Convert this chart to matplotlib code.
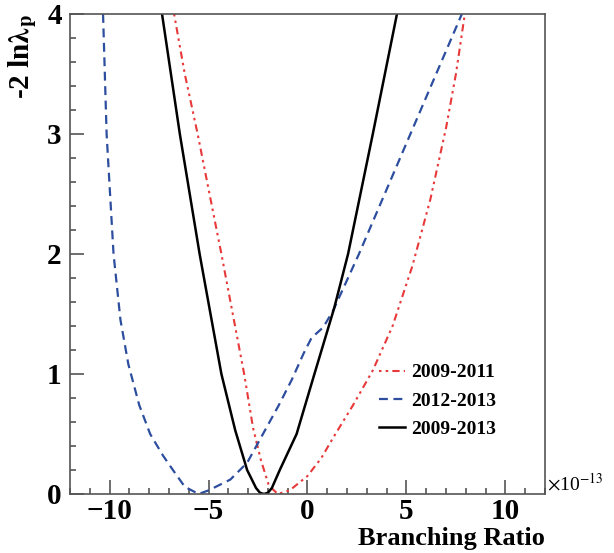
import numpy as np
import matplotlib
matplotlib.use('Agg')
import matplotlib.pyplot as plt
from matplotlib.ticker import MultipleLocator

plt.rcParams['font.family'] = ['Liberation Serif', 'DejaVu Serif']
plt.rcParams['mathtext.fontset'] = 'stix'

# values (x in units of 1e-13)
red_x = [-6.74, -6.2, -5.55, -4.35, -3.2, -2.75, -2.35, -1.95, -1.5, -0.9, 0.0, 0.7, 1.3,
         2.3, 3.3, 4.3, 5.3, 6.2, 7.0, 7.5, 7.95]
red_y = [4.0, 3.5, 3.0, 2.0, 1.0, 0.55, 0.28, 0.07, 0.0, 0.03, 0.15, 0.3, 0.47,
         0.74, 1.03, 1.4, 1.9, 2.45, 3.05, 3.5, 4.0]

blue_x = [-10.33, -10.15, -9.8, -9.45, -9.05, -8.5, -7.95, -7.3, -6.8, -6.2, -5.5, -5.0,
          -3.9, -3.05, -2.15, -1.45, -0.8, -0.2, 0.2, 0.8, 1.3, 2.6, 5.2, 7.8]
blue_y = [4.0, 3.0, 2.0, 1.45, 1.08, 0.74, 0.5, 0.32, 0.2, 0.06, 0.0, 0.03,
          0.12, 0.26, 0.53, 0.74, 0.95, 1.17, 1.3, 1.39, 1.53, 2.0, 3.0, 4.0]

black_x = [-7.35, -6.9, -6.45, -5.45, -4.35, -3.65, -3.05, -2.6, -2.4, -2.2, -2.0, -1.8,
           -1.4, -0.55, 0.35, 1.35, 2.05, 3.3, 4.52]
black_y = [4.0, 3.5, 3.0, 2.0, 1.0, 0.53, 0.2, 0.05, 0.01, 0.0, 0.01, 0.05,
           0.2, 0.5, 1.0, 1.55, 2.0, 3.0, 4.0]

labels = ['2009-2011', '2012-2013', '2009-2013']

fig = plt.figure(figsize=(6.14, 5.53), dpi=100)
ax = fig.add_axes([0.114, 0.1067, 0.7736, 0.868])

ax.plot(red_x, red_y, color='#e8393a', lw=1.5, linestyle=(0, (1.2, 2.0, 1.2, 2.0, 3.5, 2.0)),
        label=labels[0])
ax.plot(blue_x, blue_y, color='#2d4e9e', lw=1.6, linestyle=(0, (4, 2.5)), label=labels[1])
ax.plot(black_x, black_y, color='black', lw=1.8, label=labels[2])

ax.set_xlim(-12, 12)
ax.set_ylim(0, 4)
ax.xaxis.set_major_locator(MultipleLocator(5))
ax.xaxis.set_minor_locator(MultipleLocator(1))
ax.yaxis.set_major_locator(MultipleLocator(1))
ax.yaxis.set_minor_locator(MultipleLocator(0.2))
ax.tick_params(which='both', direction='in', top=False, right=False, color='#555555', width=1.2)
ax.tick_params(which='major', length=10, labelsize=21, pad=6)
ax.tick_params(axis='x', which='major', pad=3)
ax.tick_params(which='minor', length=4.5)
for lab in ax.get_yticklabels():
    lab.set_fontweight('bold')
for sp in ax.spines.values():
    sp.set_color('#555555')
    sp.set_linewidth(1.2)

xt = [-10, -5, 0, 5, 10]
ax.set_xticks(xt)
ax.set_xticklabels(['\u2212' + str(-t) if t < 0 else str(t) for t in xt], fontweight='bold')
ax.set_xlim(-12, 12)

ax.set_xlabel('Branching Ratio', fontsize=19, fontweight='bold', ha='right')
ax.xaxis.set_label_coords(1.0, -0.068)
ax.set_ylabel(r'-2 ln$\boldsymbol{\lambda}_{\mathbf{p}}$', fontsize=21, fontweight='bold',
              loc='top', labelpad=6)
ax.text(1.005, 0.0, r'$\times$10$^{-13}$', transform=ax.transAxes, fontsize=14,
        ha='left', va='bottom')

ax.legend(loc='lower right', bbox_to_anchor=(0.935, 0.08), frameon=False,
          prop={'weight': 'bold', 'size': 14}, handlelength=1.35, handletextpad=0.35,
          labelspacing=0.55)

fig.savefig('out.png', dpi=100)
